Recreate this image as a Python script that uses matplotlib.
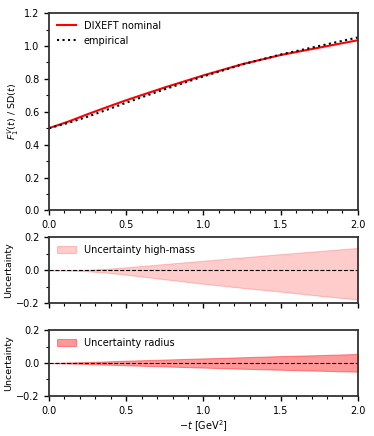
import matplotlib
matplotlib.use("Agg")
import matplotlib.pyplot as plt
import numpy as np
from matplotlib.ticker import MultipleLocator

# -t grid [GeV^2]
t = [0.0, 0.125, 0.25, 0.375, 0.5, 0.75, 1.0, 1.25, 1.5, 1.75, 2.0]

# ratio F1V / SD
nominal = [0.500, 0.540, 0.585, 0.628, 0.670, 0.748, 0.821, 0.889, 0.945, 0.990, 1.035]
empirical = [0.500, 0.532, 0.570, 0.612, 0.655, 0.737, 0.815, 0.887, 0.948, 1.000, 1.052]

# uncertainty bands
hm_up = [0.0, 0.0, 0.003, 0.009, 0.018, 0.038, 0.058, 0.078, 0.098, 0.117, 0.136]
hm_lo = [0.0, -0.001, -0.006, -0.015, -0.027, -0.055, -0.082, -0.107, -0.130, -0.155, -0.178]
rad_up = [0.0, 0.003, 0.006, 0.010, 0.014, 0.021, 0.028, 0.035, 0.042, 0.048, 0.055]
rad_lo = [0.0, -0.003, -0.006, -0.010, -0.014, -0.021, -0.028, -0.035, -0.041, -0.047, -0.053]

fs = 7
plt.rcParams['font.size'] = fs

fig = plt.figure(figsize=(3.74, 4.36), dpi=100)
gs = fig.add_gridspec(3, 1, height_ratios=[3, 1, 1], hspace=0.246,
                      left=0.131, right=0.957, top=0.970, bottom=0.092)
ax1 = fig.add_subplot(gs[0])
ax2 = fig.add_subplot(gs[1], sharex=ax1)
ax3 = fig.add_subplot(gs[2], sharex=ax1)

ax1.plot(t, nominal, color='red', lw=1.5, label='DIXEFT nominal')
ax1.plot(t, empirical, color='black', lw=1.5, ls=':', label='empirical')
ax1.set_ylim(0, 1.2)
ax1.set_ylabel(r'$F_1^V(t)$ / SD$(t)$', fontsize=6.8, labelpad=2)
ax1.legend(loc='upper left', frameon=False, fontsize=fs, borderaxespad=0.4)
ax1.yaxis.set_major_locator(MultipleLocator(0.2))
ax1.yaxis.set_minor_locator(MultipleLocator(0.1))

ax2.fill_between(t, hm_lo, hm_up, color='red', alpha=0.2, lw=0.8,
                 label='Uncertainty high-mass')
ax3.fill_between(t, rad_lo, rad_up, color='red', alpha=0.4, lw=0.8,
                 label='Uncertainty radius')
for ax in (ax2, ax3):
    ax.axhline(0, color='black', ls='--', lw=0.8)
    ax.set_ylim(-0.2, 0.2)
    ax.set_ylabel('Uncertainty', fontsize=6.8, labelpad=2)
    ax.yaxis.set_major_locator(MultipleLocator(0.2))
    ax.yaxis.set_minor_locator(MultipleLocator(0.1))
    ax.legend(loc='upper left', frameon=False, fontsize=fs, borderaxespad=0.4)

for ax in (ax1, ax2, ax3):
    ax.set_xlim(0, 2.0)
    ax.xaxis.set_major_locator(MultipleLocator(0.5))
    ax.xaxis.set_minor_locator(MultipleLocator(0.1))
    ax.tick_params(which='major', length=3.5, width=1, labelsize=fs)
    ax.tick_params(which='minor', length=2, width=0.8)
    for s in ax.spines.values():
        s.set_linewidth(1.3)
        s.set_color('#333333')

plt.setp(ax2.get_xticklabels(), visible=False)
ax3.set_xlabel(r'$-t$ [GeV$^2$]', fontsize=fs, labelpad=2)

fig.savefig('out.png', dpi=100)
